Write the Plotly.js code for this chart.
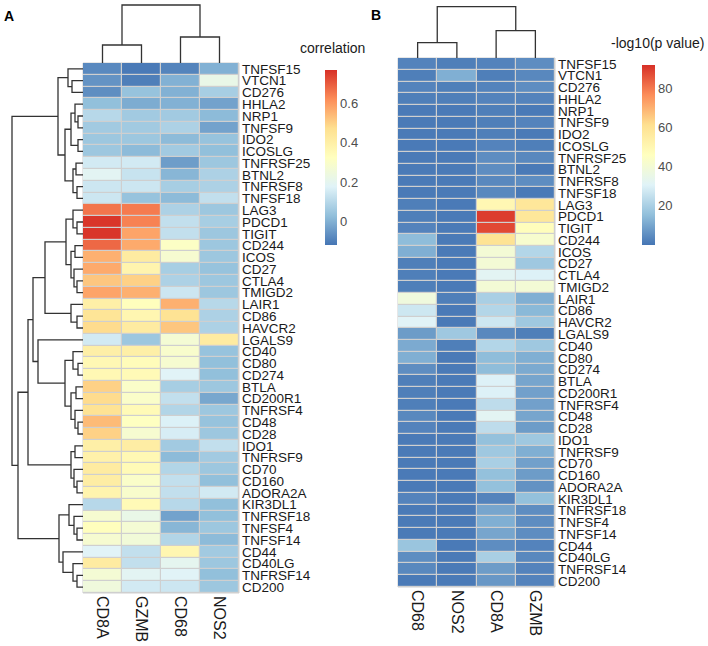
<!DOCTYPE html>
<html>
<head>
<meta charset="utf-8">
<script src="https://cdn.plot.ly/plotly-3.0.1.min.js"></script>
<style>
  html, body { margin: 0; padding: 0; background: #fff; }
  #chart { width: 708px; height: 646px; }
</style>
</head>
<body>
<div id="chart"></div>
<script>
// genes, top to bottom (same order in both panels)
const genes = ['TNFSF15', 'VTCN1', 'CD276', 'HHLA2', 'NRP1', 'TNFSF9', 'IDO2', 'ICOSLG',
  'TNFRSF25', 'BTNL2', 'TNFRSF8', 'TNFSF18', 'LAG3', 'PDCD1', 'TIGIT', 'CD244', 'ICOS',
  'CD27', 'CTLA4', 'TMIGD2', 'LAIR1', 'CD86', 'HAVCR2', 'LGALS9', 'CD40', 'CD80', 'CD274',
  'BTLA', 'CD200R1', 'TNFRSF4', 'CD48', 'CD28', 'IDO1', 'TNFRSF9', 'CD70', 'CD160',
  'ADORA2A', 'KIR3DL1', 'TNFRSF18', 'TNFSF4', 'TNFSF14', 'CD44', 'CD40LG', 'TNFRSF14', 'CD200'];

const colsA = ['CD8A', 'GZMB', 'CD68', 'NOS2'];
const colsB = ['CD68', 'NOS2', 'CD8A', 'GZMB'];

// panel A: correlation
const corrCD8A = [-0.08, -0.06, -0.07, 0.03, 0.10, 0.06, 0.05, 0.05, 0.15, 0.19, 0.14, 0.14,
  0.66, 0.76, 0.76, 0.68, 0.56, 0.57, 0.52, 0.58, 0.40, 0.45, 0.48, 0.15, 0.40, 0.36, 0.36,
  0.50, 0.48, 0.46, 0.54, 0.50, 0.40, 0.39, 0.42, 0.41, 0.38, 0.10, 0.28, 0.33, 0.28, 0.18,
  0.42, 0.27, 0.25];
const corrGZMB = [-0.11, -0.10, 0.04, -0.01, 0.06, 0.06, 0.05, 0.02, 0.15, 0.13, 0.14, 0.04,
  0.65, 0.64, 0.58, 0.57, 0.42, 0.38, 0.50, 0.56, 0.33, 0.37, 0.42, 0.05, 0.40, 0.34, 0.35,
  0.30, 0.30, 0.35, 0.32, 0.28, 0.41, 0.36, 0.35, 0.30, 0.29, 0.35, 0.22, 0.27, 0.26, 0.12,
  0.12, 0.19, 0.15];
const corrCD68 = [-0.09, 0.00, 0.00, 0.00, 0.06, 0.08, 0.02, 0.06, -0.04, 0.01, 0.07, 0.02,
  0.08, 0.12, 0.12, 0.31, 0.28, 0.07, 0.08, 0.14, 0.56, 0.46, 0.52, 0.27, 0.29, 0.28, 0.18,
  0.07, 0.12, 0.09, 0.17, 0.16, 0.06, 0.02, 0.09, 0.12, 0.12, 0.10, -0.03, 0.01, 0.09, 0.37,
  0.20, 0.18, 0.14];
const corrNOS2 = [0.00, 0.22, 0.07, -0.03, 0.02, -0.03, 0.04, 0.03, 0.05, 0.08, 0.08, 0.12,
  0.05, 0.07, 0.05, 0.05, 0.05, 0.04, 0.05, 0.05, 0.10, 0.08, 0.08, 0.42, 0.04, 0.03, 0.03,
  0.05, -0.02, 0.05, 0.04, 0.05, 0.12, 0.06, 0.05, 0.03, 0.15, 0.03, 0.03, 0.05, 0.02, 0.06,
  0.05, 0.03, 0.05];

// panel B: -log10(p value)
const pCD68 = [3, 2, 3, 2, 1, 1, 1, 1, 1, 1, 1, 1, 2, 2, 3, 15, 12, 2, 2, 2, 38, 27, 31, 8,
  11, 12, 5, 2, 2, 2, 4, 3, 1, 1, 1, 1, 1, 3, 1, 1, 1, 17, 5, 4, 1];
const pNOS2 = [2, 12, 2, 2, 1, 1, 1, 1, 1, 1, 1, 1, 1, 1, 1, 1, 1, 1, 1, 1, 2, 1, 1, 18,
  2, 1, 1, 1, 1, 1, 1, 1, 1, 1, 1, 1, 1, 1, 1, 1, 1, 1, 1, 1, 1];
const pCD8A = [3, 2, 3, 3, 2, 2, 2, 3, 5, 5, 4, 4, 50, 90, 88, 60, 40, 40, 32, 40, 20, 22,
  27, 4, 22, 15, 15, 30, 30, 24, 32, 24, 16, 18, 20, 16, 16, 3, 10, 12, 10, 5, 20, 8, 7];
const pGZMB = [5, 4, 5, 3, 1, 3, 1, 2, 4, 1, 5, 1, 58, 58, 47, 42, 22, 18, 30, 40, 12, 14,
  18, 2, 18, 12, 11, 10, 9, 9, 10, 8, 18, 12, 9, 8, 6, 16, 5, 5, 5, 3, 4, 3, 3];

// dendrograms: [left, right, height]
const colTreeA = [['CD8A', 'GZMB', 18], ['CD68', 'NOS2', 26], 58];
const colTreeB = [['CD68', 'NOS2', 15.3], ['CD8A', 'GZMB', 27.3], 51.3];

const rowTop = [['TNFSF15', ['VTCN1', 'CD276', 11], 15],
  [[['HHLA2', ['NRP1', 'TNFSF9', 5], 8], ['IDO2', 'ICOSLG', 5], 12],
   [['TNFRSF25', 'BTNL2', 7], ['TNFRSF8', 'TNFSF18', 6], 10], 18], 25];
const rowP = [['LAG3', ['PDCD1', 'TIGIT', 6], 10],
  [['CD244', 'ICOS', 8], ['CD27', ['CTLA4', 'TMIGD2', 6], 9], 12], 17];
const rowM = ['LAIR1', ['CD86', 'HAVCR2', 6], 12];
const rowQ = [['CD40', ['CD80', 'CD274', 5], 10],
  [['BTLA', 'CD200R1', 7], ['TNFRSF4', ['CD48', 'CD28', 5], 8], 12], 18];
const rowR = [['IDO1', 'TNFRSF9', 8], ['CD70', ['CD160', 'ADORA2A', 6], 9], 12];
const rowS = ['KIR3DL1', ['TNFRSF18', ['TNFSF4', 'TNFSF14', 6], 9], 14];
const rowT = ['CD44', ['CD40LG', ['TNFRSF14', 'CD200', 6], 10], 20];
const rowTree = [rowTop,
  [[[[rowP, rowM, 38], ['LGALS9', rowQ, 45], 50], rowR, 55], [rowS, rowT, 24], 65],
  71];

function dendro(tree, index) {
  let pos = [], hgt = [];
  function walk(node) {
    if (typeof node === 'string') return {p: index[node], h: 0};
    let a = walk(node[0]), b = walk(node[1]), h = node[2];
    pos.push(a.p, a.p, b.p, b.p, null);
    hgt.push(a.h, h, h, b.h, null);
    return {p: (a.p + b.p) / 2, h: h};
  }
  walk(tree);
  return {pos: pos, hgt: hgt};
}

function indexOf(list) {
  let m = {};
  list.forEach((g, i) => m[g] = i);
  return m;
}

const colors = [[0, '#4575B4'], [1 / 6, '#91BFDB'], [2 / 6, '#E0F3F8'], [3 / 6, '#FFFFBF'],
  [4 / 6, '#FEE090'], [5 / 6, '#FC8D59'], [1, '#D73027']];

let rowIdx = genes.map((g, i) => i);
let zA = genes.map((g, i) => [corrCD8A[i], corrGZMB[i], corrCD68[i], corrNOS2[i]]);
let zB = genes.map((g, i) => [pCD68[i], pNOS2[i], pCD8A[i], pGZMB[i]]);

let font = "Arial, 'Liberation Sans', sans-serif";
let tickFont = {family: font, size: 16, color: '#1a1a1a'};
let rowFont = {family: font, size: 13.5, color: '#1a1a1a'};
let cbFont = {family: font, size: 13, color: '#4d4d4d'};

let heatA = {
  type: 'heatmap', x: [0, 1, 2, 3], y: rowIdx, z: zA,
  xaxis: 'x', yaxis: 'y', colorscale: colors, zmin: -0.12, zmax: 0.77,
  xgap: 1.2, ygap: 1.2, hoverinfo: 'skip',
  colorbar: {x: 325 / 708, xanchor: 'left', y: 1 - 70 / 646, yanchor: 'top',
    len: 175 / 646, lenmode: 'fraction', thickness: 12, outlinewidth: 0,
    xpad: 0, ypad: 0, tickvals: [0, 0.2, 0.4, 0.6], ticktext: ['0', '0.2', '0.4', '0.6'],
    ticks: '', tickfont: cbFont}
};
let heatB = {
  type: 'heatmap', x: [0, 1, 2, 3], y: rowIdx, z: zB,
  xaxis: 'x2', yaxis: 'y2', colorscale: colors, zmin: 0, zmax: 92,
  xgap: 1.2, ygap: 1.2, hoverinfo: 'skip',
  colorbar: {x: 642 / 708, xanchor: 'left', y: 1 - 65 / 646, yanchor: 'top',
    len: 180 / 646, lenmode: 'fraction', thickness: 13, outlinewidth: 0,
    xpad: 0, ypad: 0, tickvals: [20, 40, 60, 80], ticks: '', tickfont: cbFont}
};

let dA = dendro(colTreeA, indexOf(colsA));
let dB = dendro(colTreeB, indexOf(colsB));
let dR = dendro(rowTree, indexOf(genes));
let lineStyle = {color: '#333333', width: 1.3};
let colDendA = {type: 'scatter', mode: 'lines', x: dA.pos, y: dA.hgt, xaxis: 'x3', yaxis: 'y3',
  line: lineStyle, hoverinfo: 'skip', showlegend: false};
let colDendB = {type: 'scatter', mode: 'lines', x: dB.pos, y: dB.hgt, xaxis: 'x4', yaxis: 'y4',
  line: lineStyle, hoverinfo: 'skip', showlegend: false};
let rowDend = {type: 'scatter', mode: 'lines', x: dR.hgt, y: dR.pos, xaxis: 'x5', yaxis: 'y5',
  line: lineStyle, hoverinfo: 'skip', showlegend: false};

function px(v) { return v / 708; }
function py(v) { return 1 - v / 646; }

let hide = {visible: false, fixedrange: true};
let rowRange = [genes.length - 0.5, -0.5];

function note(text, x, y, size, bold) {
  return {text: bold ? '<b>' + text + '</b>' : text, xref: 'paper', yref: 'paper',
    x: px(x), y: py(y), xanchor: 'center', yanchor: 'middle', showarrow: false,
    font: {family: font, size: size, color: bold ? '#000' : '#1a1a1a'}};
}

let layout = {
  width: 708, height: 646,
  margin: {l: 0, r: 0, t: 0, b: 0},
  paper_bgcolor: '#ffffff', plot_bgcolor: '#ffffff',
  showlegend: false,
  font: {family: font, color: '#1a1a1a'},
  xaxis: {domain: [px(83), px(239)], range: [-0.5, 3.5], tickvals: [0, 1, 2, 3], ticktext: colsA,
    tickangle: 90, ticks: '', showgrid: false, zeroline: false, tickfont: tickFont, anchor: 'y',
    ticklabelstandoff: 2},
  yaxis: {domain: [py(593), py(63)], range: rowRange, tickvals: rowIdx, ticktext: genes,
    side: 'right', ticks: '', showgrid: false, zeroline: false, anchor: 'x',
    tickfont: rowFont, ticklabelstandoff: 2},
  xaxis2: {domain: [px(398), px(555)], range: [-0.5, 3.5], tickvals: [0, 1, 2, 3], ticktext: colsB,
    tickangle: 90, ticks: '', showgrid: false, zeroline: false, tickfont: tickFont, anchor: 'y2',
    ticklabelstandoff: 2},
  yaxis2: {domain: [py(587), py(58)], range: rowRange, tickvals: rowIdx, ticktext: genes,
    side: 'right', ticks: '', showgrid: false, zeroline: false, anchor: 'x2',
    tickfont: rowFont, ticklabelstandoff: 2},
  xaxis3: Object.assign({domain: [px(83), px(239)], range: [-0.5, 3.5], anchor: 'y3'}, hide),
  yaxis3: Object.assign({domain: [py(63), py(0)], range: [0, 63], anchor: 'x3'}, hide),
  xaxis4: Object.assign({domain: [px(398), px(555)], range: [-0.5, 3.5], anchor: 'y4'}, hide),
  yaxis4: Object.assign({domain: [py(58), py(0)], range: [0, 58], anchor: 'x4'}, hide),
  xaxis5: Object.assign({domain: [0, px(83)], range: [83, 0], anchor: 'y5'}, hide),
  yaxis5: Object.assign({domain: [py(593), py(63)], range: rowRange, anchor: 'x5'}, hide),
  shapes: [
    {type: 'rect', xref: 'x domain', yref: 'y domain', x0: 0, x1: 1, y0: 0, y1: 1,
      fillcolor: '#cfcfcf', line: {color: '#cfcfcf', width: 1}, layer: 'below'},
    {type: 'rect', xref: 'x2 domain', yref: 'y2 domain', x0: 0, x1: 1, y0: 0, y1: 1,
      fillcolor: '#cfcfcf', line: {color: '#cfcfcf', width: 1}, layer: 'below'}
  ],
  annotations: [
    note('A', 8.5, 15.5, 14, true),
    note('B', 376, 15, 14, true),
    note('correlation', 332, 48, 14, false),
    note('-log10(p value)', 657, 43, 14, false)
  ]
};

Plotly.newPlot('chart', [heatA, heatB, colDendA, colDendB, rowDend], layout,
  {displayModeBar: false, staticPlot: true});
</script>
</body>
</html>
